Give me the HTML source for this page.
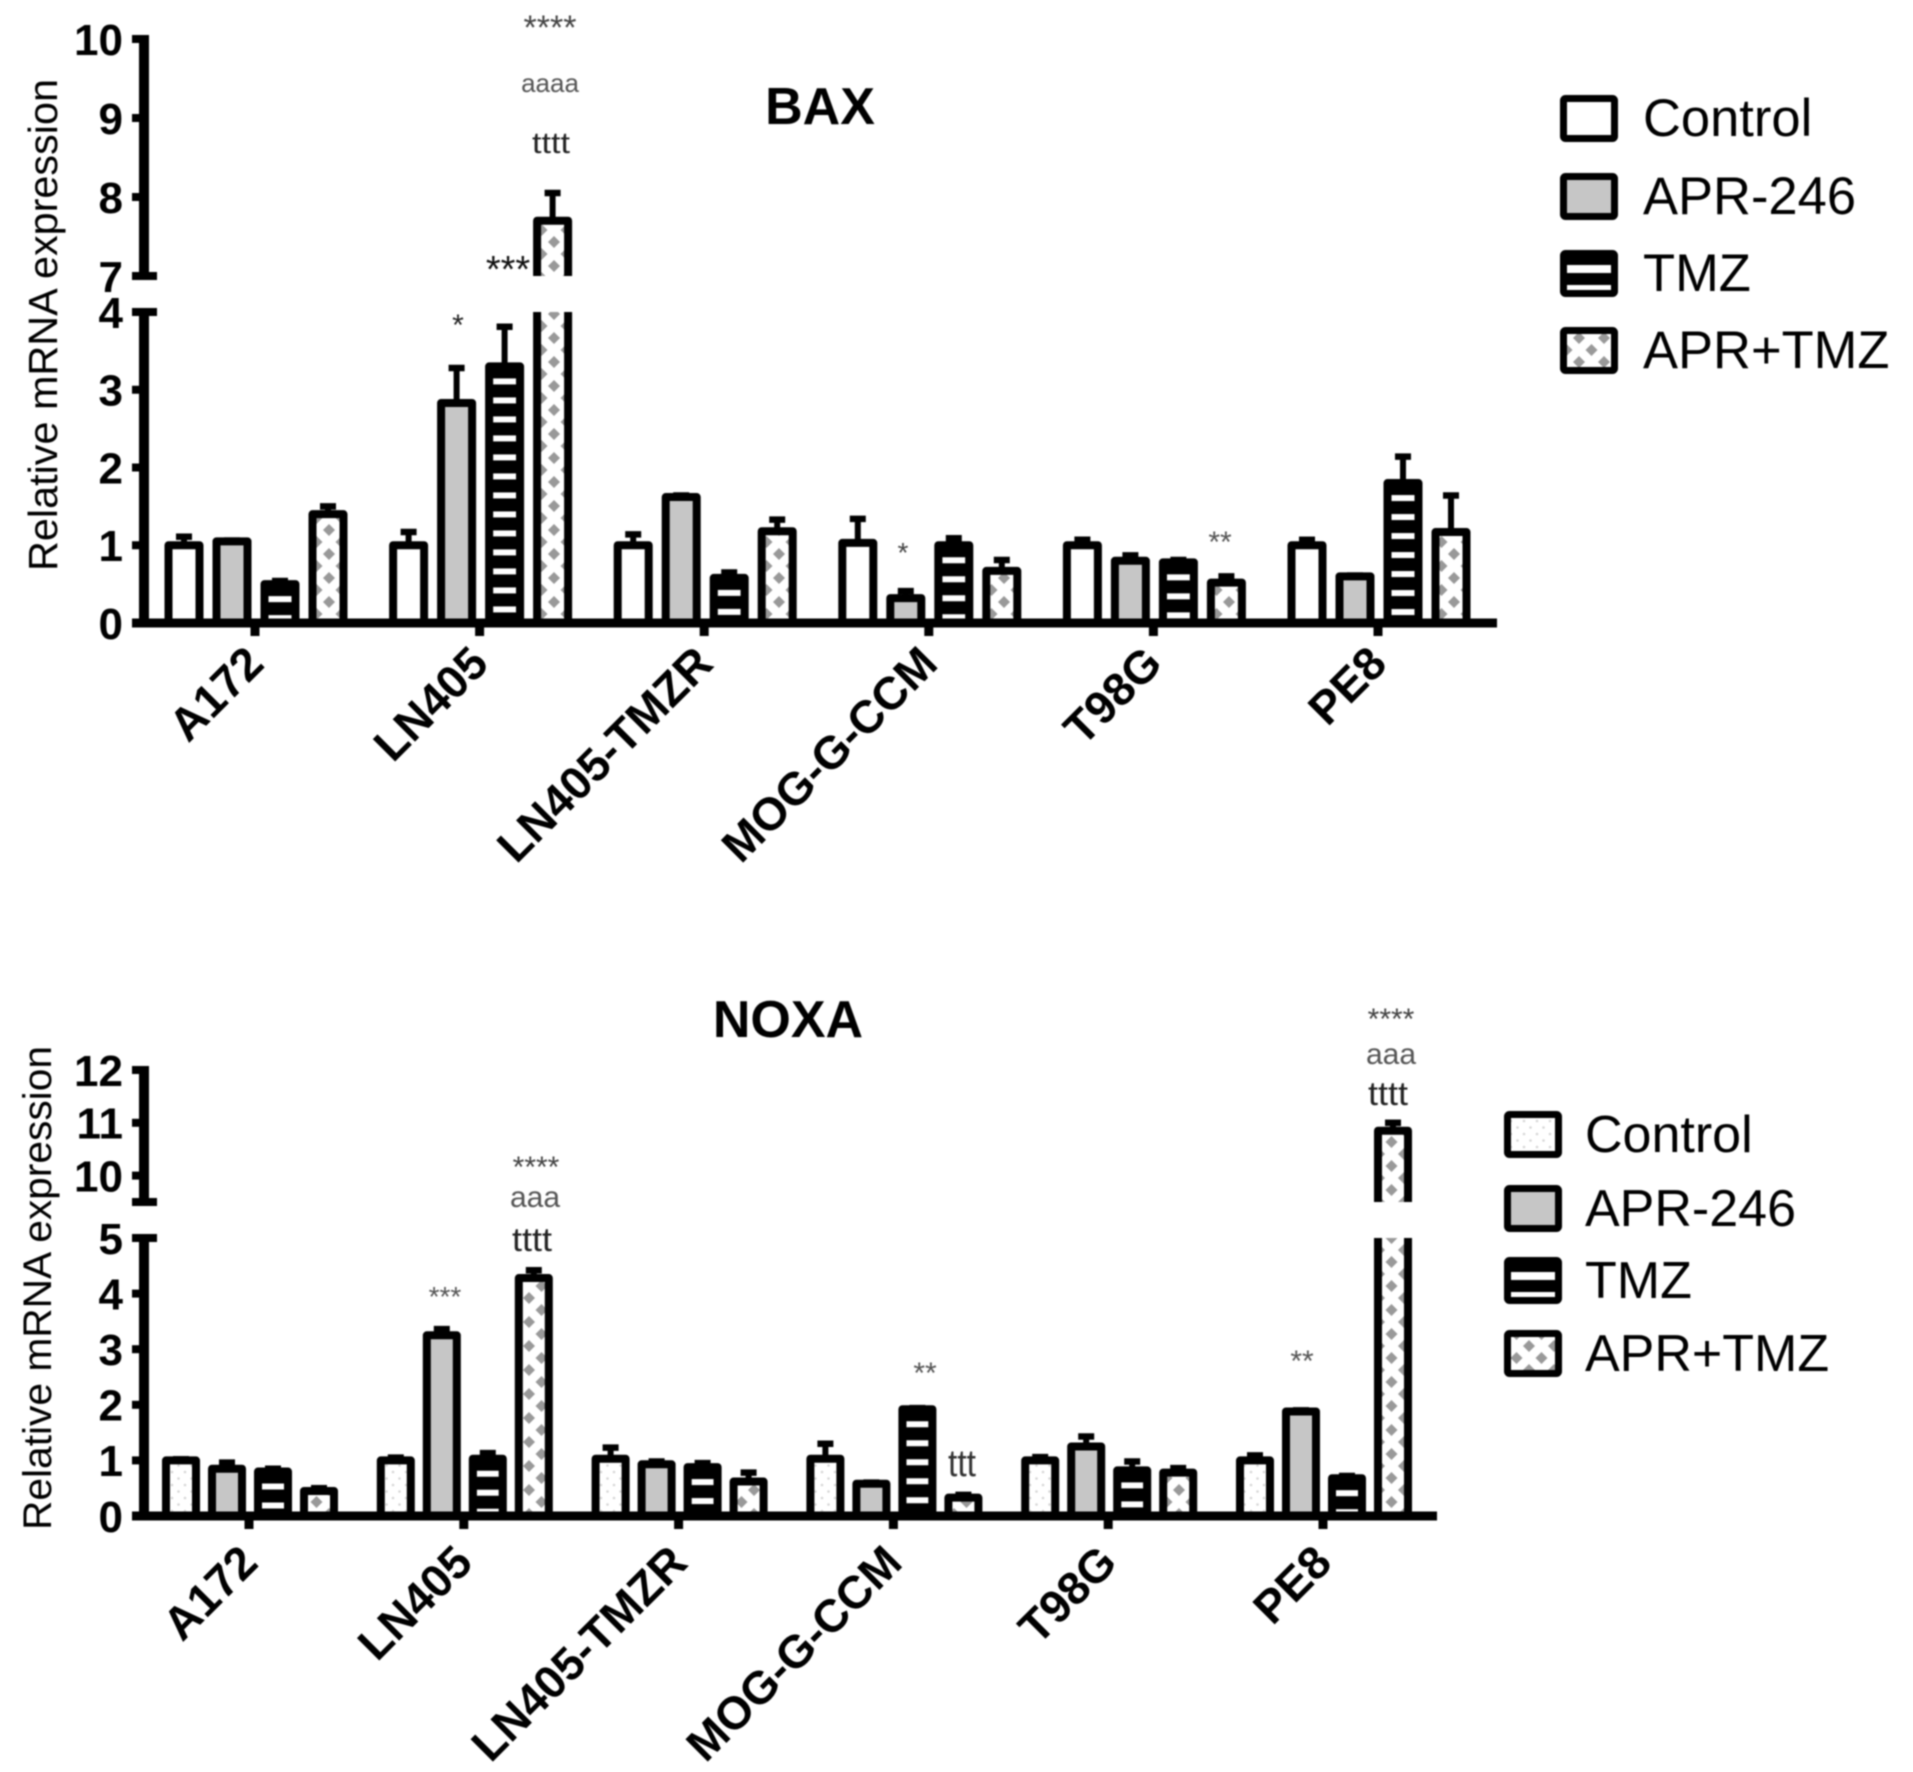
<!DOCTYPE html>
<html lang="en">
<head>
<meta charset="utf-8">
<title>BAX and NOXA relative mRNA expression</title>
<style>
  html, body { margin: 0; padding: 0; background: #fff; }
  #figure { display: block; filter: blur(0.7px); font-family: "Liberation Sans", Arial, sans-serif; }
</style>
</head>
<body>
<svg id="figure" xmlns="http://www.w3.org/2000/svg" width="1913" height="1772" viewBox="0 0 1913 1772">
  <defs>
    <pattern id="dots" patternUnits="userSpaceOnUse" width="13" height="13">
      <circle cx="3" cy="3" r="1.3" fill="#d6d6d6"/>
      <circle cx="9.5" cy="9.5" r="1.3" fill="#d6d6d6"/>
    </pattern>
    <pattern id="diamonds" patternUnits="userSpaceOnUse" width="25" height="24" patternTransform="translate(4 2)">
      <polygon points="0,-6 6,0 0,6 -6,0" fill="#999"/>
      <polygon points="25,-6 31,0 25,6 19,0" fill="#999"/>
      <polygon points="0,18 6,24 0,30 -6,24" fill="#999"/>
      <polygon points="25,18 31,24 25,30 19,24" fill="#999"/>
      <polygon points="12.5,6 18.5,12 12.5,18 6.5,12" fill="#999"/>
    </pattern>
  </defs>

  <rect x="0" y="0" width="1913" height="1772" fill="#fff"/>

  <g id="bax-chart"></g>
  <g id="noxa-chart"></g>

  <g text-anchor="middle">
    <text x="550" y="39" font-size="34" fill="#444">****</text>
    <text x="550" y="92" font-size="26" fill="#555">aaaa</text>
    <text x="551" y="153" font-size="30" fill="#222" textLength="38" lengthAdjust="spacingAndGlyphs">tttt</text>
    <text x="508" y="282" font-size="38" fill="#111">***</text>
    <text x="458" y="335" font-size="30" fill="#222">*</text>
    <text x="903" y="562" font-size="28" fill="#444">*</text>
    <text x="1220" y="552" font-size="30" fill="#555">**</text>
  </g>
  <g text-anchor="middle">
    <text x="536" y="1177" font-size="30" fill="#444">****</text>
    <text x="535" y="1207" font-size="30" fill="#555">aaa</text>
    <text x="532" y="1251" font-size="33" fill="#222" textLength="40" lengthAdjust="spacingAndGlyphs">tttt</text>
    <text x="445" y="1306" font-size="28" fill="#555">***</text>
    <text x="925" y="1383" font-size="30" fill="#555">**</text>
    <text x="962" y="1476" font-size="38" fill="#333" textLength="28" lengthAdjust="spacingAndGlyphs">ttt</text>
    <text x="1302" y="1371" font-size="30" fill="#555">**</text>
    <text x="1391" y="1029" font-size="30" fill="#444">****</text>
    <text x="1391" y="1064" font-size="30" fill="#555">aaa</text>
    <text x="1388" y="1105" font-size="33" fill="#222" textLength="40" lengthAdjust="spacingAndGlyphs">tttt</text>
  </g>
</svg>

<script>
// Shared categories and series names
var categories = ['A172', 'LN405', 'LN405-TMZR', 'MOG-G-CCM', 'T98G', 'PE8'];
var seriesNames = ['Control', 'APR-246', 'TMZ', 'APR+TMZ'];

// BAX means, per series across categories
var baxControl = [1.0, 1.0, 1.0, 1.03, 1.0, 1.0];
var baxApr = [1.05, 2.83, 1.62, 0.32, 0.8, 0.6];
var baxTmz = [0.5, 3.3, 0.58, 1.0, 0.78, 1.8];
var baxCombo = [1.4, 7.7, 1.18, 0.67, 0.52, 1.17];
// BAX error bar tops
var baxControlErr = [1.11, 1.17, 1.14, 1.34, 1.07, 1.07];
var baxAprErr = [1.06, 3.28, 1.64, 0.41, 0.87, 0.61];
var baxTmzErr = [0.54, 3.81, 0.65, 1.09, 0.81, 2.14];
var baxComboErr = [1.5, 8.05, 1.33, 0.81, 0.6, 1.64];
var baxLowerTicks = [0, 1, 2, 3, 4];
var baxUpperTicks = [7, 8, 9, 10];

// NOXA means, per series across categories
var noxaControl = [1.0, 1.0, 1.03, 1.03, 1.0, 1.0];
var noxaApr = [0.85, 3.25, 0.93, 0.58, 1.25, 1.88];
var noxaTmz = [0.8, 1.03, 0.88, 1.92, 0.82, 0.68];
var noxaCombo = [0.45, 4.28, 0.62, 0.33, 0.78, 10.85];
// NOXA error bar tops
var noxaControlErr = [1.02, 1.05, 1.23, 1.3, 1.06, 1.09];
var noxaAprErr = [0.96, 3.36, 0.98, 0.6, 1.43, 1.9];
var noxaTmzErr = [0.85, 1.13, 0.95, 1.94, 0.98, 0.72];
var noxaComboErr = [0.5, 4.42, 0.78, 0.38, 0.86, 11.0];
var noxaLowerTicks = [0, 1, 2, 3, 4, 5];
var noxaUpperTicks = [10, 11, 12];

var NS = 'http://www.w3.org/2000/svg';

function svgEl(parent, tag) {
  var el = document.createElementNS(NS, tag);
  parent.appendChild(el);
  return el;
}

function drawLine(parent, x1, y1, x2, y2, w, name) {
  var el = svgEl(parent, 'line');
  el.setAttribute('x1', x1);
  el.setAttribute('y1', y1);
  el.setAttribute('x2', x2);
  el.setAttribute('y2', y2);
  el.setAttribute('stroke', '#000');
  el.setAttribute('stroke-width', w);
  
  
  return el;
}

function drawText(parent, str, x, y, size, weight, anchor, name) {
  var el = svgEl(parent, 'text');
  el.textContent = str;
  el.setAttribute('x', x);
  el.setAttribute('y', y);
  el.setAttribute('font-size', size);
  el.setAttribute('font-weight', weight);
  el.setAttribute('text-anchor', anchor);
  el.setAttribute('fill', '#000');
  
  
  return el;
}

function makeYScale(a) {
  var lowK = (a.y0 - a.yLowTop) / a.lowMax;
  var upK = (a.yUpBottom - a.yUpTop) / (a.upMax - a.upMin);
  return function (v) {
    return v <= a.lowMax ? a.y0 - v * lowK : a.yUpBottom - (v - a.upMin) * upK;
  };
}

function seriesFill(s, dotted) {
  if (s === 0) return dotted ? 'url(#dots)' : '#fff';
  if (s === 1) return '#c6c6c6';
  if (s === 2) return '#000';
  return 'url(#diamonds)';
}

function drawStripes(parent, xc, top, bottom, inner, name) {
  for (var y = top + 12; y + 3 < bottom; y += 19) {
    var st = svgEl(parent, 'rect');
    st.setAttribute('x', xc - inner / 2);
    st.setAttribute('y', y);
    st.setAttribute('width', inner);
    st.setAttribute('height', Math.min(6, bottom - y));
    st.setAttribute('fill', '#fff');
    
    
  }
}

function drawBar(g, a, y, xc, s, v, err, name) {
  var half = a.barW / 2;
  var x0 = xc - half;
  var x1 = xc + half;
  var broken = v > a.lowMax;
  var top = y(v);

  var bar = svgEl(g, 'g');
  
  

  var segments = broken ? [[top, a.yUpBottom, true], [a.yLowTop, a.y0, false]] : [[top, a.y0, true]];
  segments.forEach(function (seg) {
    var white = svgEl(bar, 'rect');
    white.setAttribute('x', x0);
    white.setAttribute('y', seg[0]);
    white.setAttribute('width', a.barW);
    white.setAttribute('height', seg[1] - seg[0]);
    white.setAttribute('fill', '#fff');
    
    

    var fill = svgEl(bar, 'rect');
    fill.setAttribute('x', x0);
    fill.setAttribute('y', seg[0]);
    fill.setAttribute('width', a.barW);
    fill.setAttribute('height', seg[1] - seg[0]);
    fill.setAttribute('fill', seriesFill(s, a.dotted));
    
    

    if (s === 2) drawStripes(bar, xc, seg[0], seg[1], a.barW - 8, name + '-stripe');

    var outline = svgEl(bar, 'path');
    outline.setAttribute('d', seg[2]
      ? 'M' + x0 + ' ' + seg[1] + 'V' + seg[0] + 'H' + x1 + 'V' + seg[1]
      : 'M' + x0 + ' ' + seg[1] + 'V' + seg[0] + 'M' + x1 + ' ' + seg[1] + 'V' + seg[0]);
    outline.setAttribute('fill', 'none');
    outline.setAttribute('stroke', '#000');
    outline.setAttribute('stroke-width', 8);
    outline.setAttribute('stroke-linejoin', 'round');
    
    
  });

  var errTop = y(err);
  drawLine(bar, xc, top, xc, errTop, 6, name + '-error-stem');
  drawLine(bar, xc - a.capW / 2, errTop, xc + a.capW / 2, errTop, 6.5, name + '-error-cap');
}

function drawChart(g, a, prefix, series, errors, lowerTicks, upperTicks) {
  var y = makeYScale(a);
  var catX = function (i) { return a.firstCat + i * a.catStep; };

  // Bars
  categories.forEach(function (cat, i) {
    series.forEach(function (vals, s) {
      var xc = catX(i) + a.groupShift + (s - 1.5) * a.barStep;
      drawBar(g, a, y, xc, s, vals[i], errors[s][i], prefix + '-bar-' + cat.toLowerCase() + '-s' + s);
    });
  });

  // Y axis segments
  drawLine(g, a.axisX, a.yUpTop - 4, a.axisX, a.yUpBottom + 4, 10, prefix + '-y-axis-upper');
  drawLine(g, a.axisX, a.yLowTop - 4, a.axisX, a.y0 + 4, 10, prefix + '-y-axis-lower');

  // Break caps
  drawLine(g, a.axisX - 12, a.yUpBottom, a.axisX + 13, a.yUpBottom, 8, prefix + '-axis-break-upper');
  drawLine(g, a.axisX - 12, a.yLowTop, a.axisX + 13, a.yLowTop, 8, prefix + '-axis-break-lower');

  // Y ticks and labels
  lowerTicks.concat(upperTicks).forEach(function (t) {
    var ty = y(t);
    drawLine(g, a.axisX - 12, ty, a.axisX, ty, 8, prefix + '-y-tick');
    drawText(g, String(t), a.labelRight, ty + a.tickSize * 0.36, a.tickSize, 'bold', 'end', prefix + '-y-tick-label');
  });

  // X axis, ticks, labels
  drawLine(g, a.axisX - 12, a.y0, a.xEnd, a.y0, 9, prefix + '-x-axis');
  categories.forEach(function (cat, i) {
    var cx = catX(i);
    drawLine(g, cx, a.y0, cx, a.y0 + 13, 9, prefix + '-x-tick');
    var lab = drawText(g, cat, cx + 11, a.catLabelY, a.catSize, 'bold', 'end', prefix + '-x-label');
    lab.setAttribute('transform', 'rotate(-45 ' + (cx + 11) + ' ' + a.catLabelY + ')');
  });

  // Title
  drawText(g, prefix.toUpperCase(), a.titleX, a.titleY, 52, 'bold', 'middle', prefix + '-title');

  // Y axis title
  var yt = drawText(g, 'Relative mRNA expression', a.yTitleX, a.yTitleC, a.yTitleSize, 'normal', 'middle', prefix + '-y-axis-title');
  yt.setAttribute('transform', 'rotate(-90 ' + a.yTitleX + ' ' + a.yTitleC + ')');
  yt.setAttribute('textLength', a.yTitleLen);
  yt.setAttribute('lengthAdjust', 'spacingAndGlyphs');

  // Legend
  seriesNames.forEach(function (nm, s) {
    var top = a.legendTops[s];
    var x = a.legendX;
    var h = a.legendH;
    var box = svgEl(g, 'rect');
    box.setAttribute('x', x + 3.5);
    box.setAttribute('y', top + 3.5);
    box.setAttribute('width', a.legendW - 7);
    box.setAttribute('height', h - 7);
    box.setAttribute('rx', 2);
    box.setAttribute('fill', s === 2 ? '#000' : seriesFill(s, a.dotted));
    box.setAttribute('stroke', '#000');
    box.setAttribute('stroke-width', 7);
    
    
    if (s === 2) {
      [15, 35].forEach(function (off, k) {
        var st = svgEl(g, 'rect');
        st.setAttribute('x', x + 7);
        st.setAttribute('y', top + off);
        st.setAttribute('width', a.legendW - 14);
        st.setAttribute('height', k === 0 ? 8 : 5);
        st.setAttribute('fill', '#fff');
        
        
      });
    }
    drawText(g, nm, a.legendTextX, top + h / 2 + 17.5, a.legendSize, 'normal', 'start', prefix + '-legend-label');
  });
}

drawChart(document.getElementById('bax-chart'), {
  y0: 623, yLowTop: 312, lowMax: 4,
  yUpBottom: 276, yUpTop: 39, upMin: 7, upMax: 10,
  axisX: 144, xEnd: 1497, firstCat: 255, catStep: 224.6, groupShift: 1,
  barStep: 48, barW: 31, capW: 16, dotted: false,
  labelRight: 123, tickSize: 44, catSize: 46, catLabelY: 666,
  titleX: 820, titleY: 124,
  yTitleX: 57, yTitleC: 325, yTitleSize: 41, yTitleLen: 492,
  legendX: 1560, legendW: 58, legendH: 47, legendTops: [95, 173, 250, 327], legendTextX: 1643, legendSize: 52.5
}, 'bax',
  [baxControl, baxApr, baxTmz, baxCombo],
  [baxControlErr, baxAprErr, baxTmzErr, baxComboErr],
  baxLowerTicks, baxUpperTicks);

drawChart(document.getElementById('noxa-chart'), {
  y0: 1516, yLowTop: 1238, lowMax: 5,
  yUpBottom: 1202, yUpTop: 1070, upMin: 9.5, upMax: 12,
  axisX: 144, xEnd: 1437, firstCat: 249, catStep: 214.8, groupShift: 1,
  barStep: 46, barW: 30, capW: 16, dotted: true,
  labelRight: 123, tickSize: 44, catSize: 46, catLabelY: 1565,
  titleX: 788, titleY: 1037,
  yTitleX: 51, yTitleC: 1288, yTitleSize: 40, yTitleLen: 484,
  legendX: 1504, legendW: 58, legendH: 47, legendTops: [1111, 1185, 1257, 1330], legendTextX: 1585, legendSize: 52
}, 'noxa',
  [noxaControl, noxaApr, noxaTmz, noxaCombo],
  [noxaControlErr, noxaAprErr, noxaTmzErr, noxaComboErr],
  noxaLowerTicks, noxaUpperTicks);
</script>
</body>
</html>
